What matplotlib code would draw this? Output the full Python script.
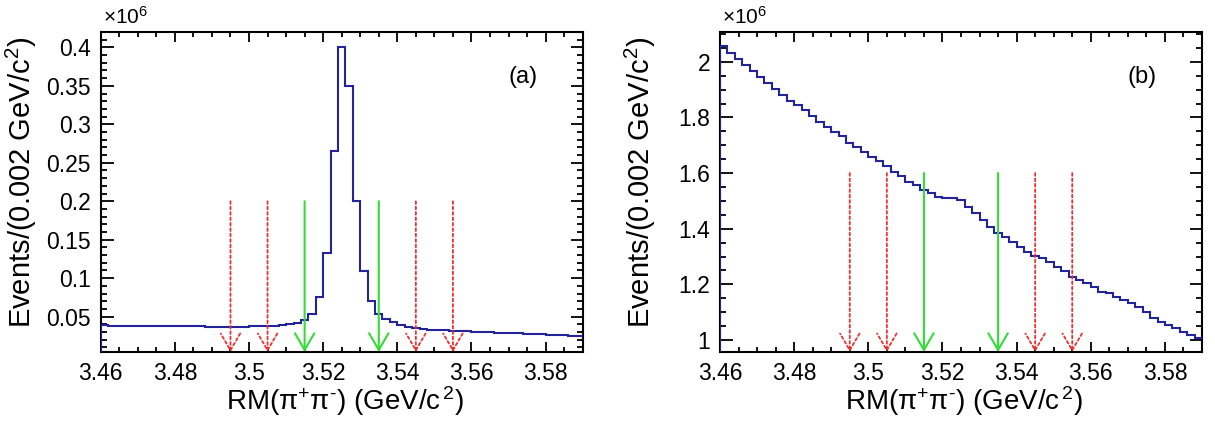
import numpy as np
import matplotlib
matplotlib.use("Agg")
import matplotlib.pyplot as plt
from matplotlib.ticker import MultipleLocator

plt.rcParams['font.family'] = ['Liberation Sans', 'DejaVu Sans']
plt.rcParams['mathtext.fontset'] = 'custom'
plt.rcParams['mathtext.rm'] = 'Liberation Sans'
plt.rcParams['mathtext.it'] = 'Liberation Sans:italic'
plt.rcParams['mathtext.bf'] = 'Liberation Sans:bold'

# ---------------- data ----------------
x_start = 3.46
bin_width = 0.002

# panel (a): events per bin, in units of 1e6
counts_a = [
    0.0385, 0.0384, 0.0383, 0.0382, 0.0381,
    0.0380, 0.0379, 0.0378, 0.0378, 0.0377,
    0.0376, 0.0375, 0.0374, 0.0372, 0.0371,
    0.0370, 0.0370, 0.0370, 0.0370, 0.0371,
    0.0372, 0.0374, 0.0377, 0.0381, 0.0388,
    0.0400, 0.0420, 0.0450, 0.0540, 0.0755,
    0.1330, 0.2650, 0.4000, 0.3500, 0.2000,
    0.1090, 0.0700, 0.0540, 0.0474, 0.0431,
    0.0396, 0.0370, 0.0354, 0.0336, 0.0330,
    0.0326, 0.0323, 0.0318, 0.0312, 0.0307,
    0.0302, 0.0299, 0.0296, 0.0293, 0.0290,
    0.0287, 0.0284, 0.0280, 0.0276, 0.0272,
    0.0267, 0.0263, 0.0258, 0.0253, 0.0249,
]

# panel (b): events per bin, in units of 1e6
counts_b = [
    2.058, 2.030, 2.009, 1.988, 1.968,
    1.946, 1.922, 1.901, 1.880, 1.859,
    1.844, 1.826, 1.806, 1.784, 1.766,
    1.748, 1.733, 1.707, 1.692, 1.677,
    1.659, 1.644, 1.625, 1.605, 1.589,
    1.569, 1.557, 1.539, 1.527, 1.515,
    1.511, 1.510, 1.503, 1.479, 1.455,
    1.431, 1.407, 1.383, 1.369, 1.353,
    1.335, 1.317, 1.302, 1.294, 1.281,
    1.263, 1.249, 1.227, 1.215, 1.204,
    1.189, 1.174, 1.168, 1.156, 1.144,
    1.132, 1.120, 1.102, 1.078, 1.066,
    1.054, 1.042, 1.030, 1.018, 1.006,
]

signal_cuts = [3.515, 3.535]
sideband_cuts = [3.495, 3.505, 3.545, 3.555]
arrow_top_a = 0.2
arrow_top_b = 1.6

xlim = (3.46, 3.59)
ylim_a = (0.004, 0.42)
ylim_b = (0.957, 2.107)

xticks = [3.46, 3.48, 3.50, 3.52, 3.54, 3.56, 3.58]
xtick_labels = ["3.46", "3.48", "3.5", "3.52", "3.54", "3.56", "3.58"]
yticks_a = [0.05, 0.1, 0.15, 0.2, 0.25, 0.3, 0.35, 0.4]
ytick_labels_a = ["0.05", "0.1", "0.15", "0.2", "0.25", "0.3", "0.35", "0.4"]
yticks_b = [1.0, 1.2, 1.4, 1.6, 1.8, 2.0]
ytick_labels_b = ["1", "1.2", "1.4", "1.6", "1.8", "2"]

panel_tags = ["(a)", "(b)"]
xlabel = r"RM(π$^{+}$π$^{\text{-}}$) (GeV/c$^{\,2}$)"
ylabel = r"Events/(0.002 GeV/c$^{2}$)"

# ---------------- style ----------------
HIST_COLOR = "#23239c"
GREEN = "#33dd33"
RED = "#ee3030"

W, H = 1215, 422
fig = plt.figure(figsize=(W / 100, H / 100), dpi=100)

def px_axes(left, top, right, bottom):
    return fig.add_axes([left / W, 1 - bottom / H, (right - left) / W, (bottom - top) / H])

ax_a = px_axes(100.7, 32, 582.7, 352)
ax_b = px_axes(720, 32, 1202, 352)

def draw_panel(ax, counts, ylim, yticks, ylabels, ymajor_minor, arrow_top, tag):
    counts = np.asarray(counts)
    edges = x_start + bin_width * np.arange(len(counts) + 1)
    ax.stairs(counts, edges, color=HIST_COLOR, lw=1.5, baseline=None, zorder=3)
    ax.vlines(edges[0], ylim[0], counts[0], color=HIST_COLOR, lw=1.5, zorder=3)
    ax.set_xlim(*xlim)
    ax.set_ylim(*ylim)

    ax.set_xticks(xticks)
    ax.set_xticklabels(xtick_labels)
    ax.xaxis.set_minor_locator(MultipleLocator(0.005))
    ax.set_yticks(yticks)
    ax.set_yticklabels(ylabels)
    ax.yaxis.set_minor_locator(MultipleLocator(ymajor_minor))

    ax.tick_params(axis='both', which='both', direction='in', top=True, right=True,
                   width=1.3, color='black')
    ax.tick_params(axis='x', which='major', length=7.2, pad=7, labelsize=16.5)
    ax.tick_params(axis='x', which='minor', length=3.6)
    ax.tick_params(axis='y', which='major', length=9.0, pad=7, labelsize=16.5)
    ax.tick_params(axis='y', which='minor', length=4.5)
    for sp in ax.spines.values():
        sp.set_linewidth(1.5)

    ymin = ylim[0]
    for xc in sideband_cuts:
        ax.annotate('', xy=(xc, ymin), xytext=(xc, arrow_top),
                    arrowprops=dict(arrowstyle='->,head_length=1.2,head_width=0.7',
                                    mutation_scale=10, color=RED, lw=1.3,
                                    linestyle=(0, (1.5, 1.5)), shrinkA=0, shrinkB=0),
                    zorder=4)
    for xc in signal_cuts:
        ax.annotate('', xy=(xc, ymin), xytext=(xc, arrow_top),
                    arrowprops=dict(arrowstyle='->,head_length=1.2,head_width=0.7',
                                    mutation_scale=10, color=GREEN, lw=1.5,
                                    shrinkA=0, shrinkB=0),
                    zorder=4)

    ax.set_xlabel(xlabel, fontsize=20)
    ax.xaxis.set_label_coords(0.506, -0.10)
    ax.set_ylabel(ylabel, fontsize=21)
    ax.yaxis.set_label_coords(-0.128, 0.53)

    ax.text(0.005, 1.012, r"×10$^{6}$", transform=ax.transAxes, fontsize=15,
            ha='left', va='bottom')
    ax.text(0.876, 0.86, tag, transform=ax.transAxes, fontsize=17,
            ha='center', va='center')

draw_panel(ax_a, counts_a, ylim_a, yticks_a, ytick_labels_a, 0.01, arrow_top_a, panel_tags[0])
draw_panel(ax_b, counts_b, ylim_b, yticks_b, ytick_labels_b, 0.05, arrow_top_b, panel_tags[1])

fig.savefig("out.png", dpi=100)
